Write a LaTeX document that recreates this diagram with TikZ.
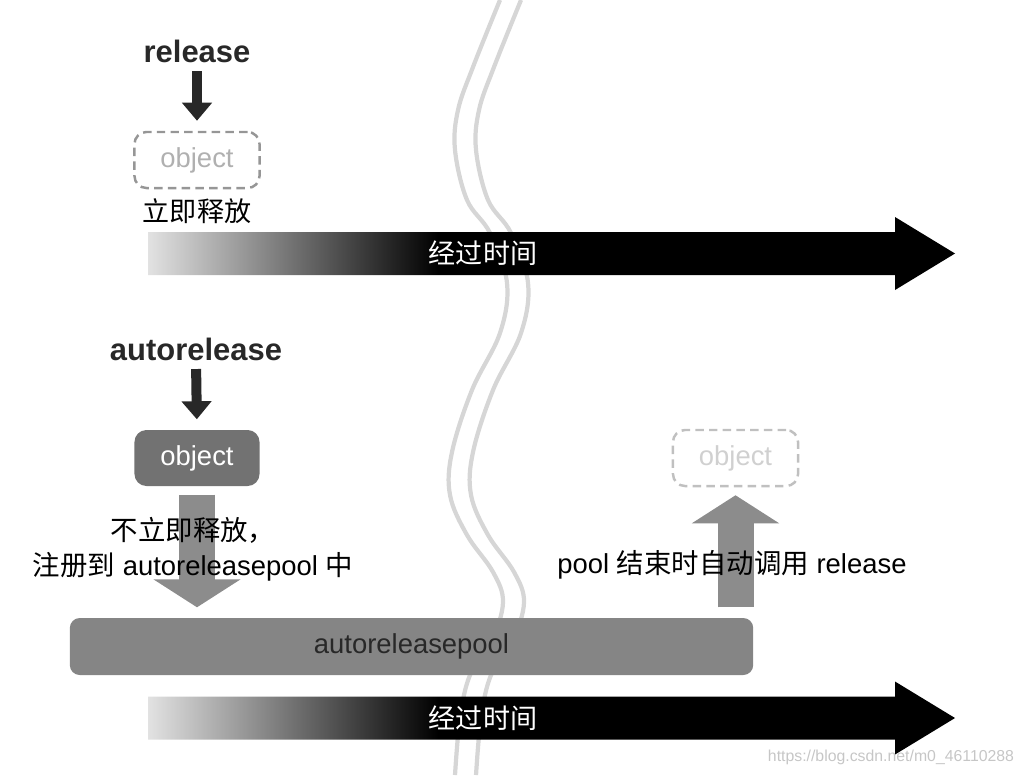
\documentclass[tikz,border=0pt]{standalone}
\usepackage{fontspec}
\setmainfont{Liberation Sans}
\newfontfamily\zh{Noto Sans CJK SC}
\definecolor{WaveGray} {RGB}{214,214,214}
\definecolor{PoolGray} {RGB}{133,133,133}
\definecolor{ObjGray}  {RGB}{114,114,114}
\definecolor{PushGray} {RGB}{140,140,140}
\definecolor{DashGray} {RGB}{150,150,150}
\definecolor{GhostGray}{RGB}{192,192,192}
\definecolor{FadeLight}{RGB}{226,226,226}
\definecolor{InkDark}  {RGB}{40,40,40}
\usetikzlibrary{arrows.meta,calc}
\pgfdeclarehorizontalshading{timefade}{100bp}{color(0bp)=(FadeLight); color(25bp)=(FadeLight); color(43bp)=(black); color(100bp)=(black)}

\begin{document}
\begin{tikzpicture}[x=0.01cm,y=-0.01cm,
    every node/.style={inner sep=0pt,font=\fontsize{7.8}{10}\selectfont},
    cmd/.style={font=\fontsize{8.8}{10}\selectfont\bfseries,text=InkDark,anchor=base},
    objbox/.style={rounded corners=0.12cm,minimum width=1.25cm,minimum height=0.56cm},
    ghost/.style={objbox,draw=#1,line width=0.7pt,dash pattern=on 2.4pt off 1.5pt,text=#1!75},
    push/.style={-{Triangle[length=0.28cm,width=0.86cm]},line width=0.36cm,PushGray},
    blk/.style={-{Triangle[length=0.18cm,width=0.29cm]},line width=0.1cm,InkDark,
                shorten <=0.08cm,shorten >=0.1cm},
    wave/.style={WaveGray,line width=1.2pt}]
  \useasboundingbox (0,0) rectangle (1025,775);
  % the break in time
  \foreach \s in {0cm,0.21cm}
    \draw[wave,xshift=\s] plot[smooth,tension=0.6] coordinates {
      (500,0) (473,67) (458,110) (455,150) (467,200) (490,233) (507,283)
      (500,333) (472,390) (452,452) (450,495) (467,535) (493,572) (503,602)
      (492,640) (470,675) (460,718) (455,775)};
  % time arrows
  \foreach \y/\n in {253.5/time1,718/time2}{
    \shade[shading=timefade] (148,\y-21.5) -- (895,\y-21.5) -- (895,\y-36.5)
      -- (955,\y) -- (895,\y+36.5) -- (895,\y+21.5) -- (148,\y+21.5) -- cycle;
    \node[text=white,font=\zh\fontsize{7.7}{10}\selectfont] (\n) at (483,\y) {经过时间};
  }
  % release
  \node[cmd] (rel) at (197,62) {release};
  \node[ghost=DashGray] (obj1) at (197,160) {object};
  \node[font=\zh\fontsize{7.7}{10}\selectfont] (now) at (197,211) {立即释放};
  \draw[blk] (rel.south) -- (obj1.north);
  % autorelease
  \node[cmd] (arel) at (196,360) {autorelease};
  \node[objbox,fill=ObjGray,text=white] (obj2) at (197,458) {object};
  \node[objbox,minimum width=6.83cm,minimum height=0.57cm,rounded corners=0.1cm,
        fill=PoolGray,text=InkDark] (pool) at (411.5,646.5) {autoreleasepool};
  \node[ghost=GhostGray] (obj3) at (735.5,458) {object};
  \draw[blk] (arel.south) -- (obj2.north);
  \draw[push,shorten <=0.08cm,shorten >=0.1cm] (obj2.south) -- (obj2.south |- pool.north);
  \draw[push,shorten <=0.1cm,shorten >=0.08cm] (obj3.south |- pool.north) -- (obj3.south);
  \node[align=center] (keep) at (193,549)
    {{\zh 不立即释放，}\\{\zh 注册到} autoreleasepool {\zh 中}};
  \node (drain) at (732,565) {pool {\zh 结束时自动调用} release};
  \node[text=gray!45,font=\fontsize{4.5}{5}\selectfont] (mark) at (891,757)
    {https://blog.csdn.net/m0\_46110288};
\end{tikzpicture}
\end{document}
